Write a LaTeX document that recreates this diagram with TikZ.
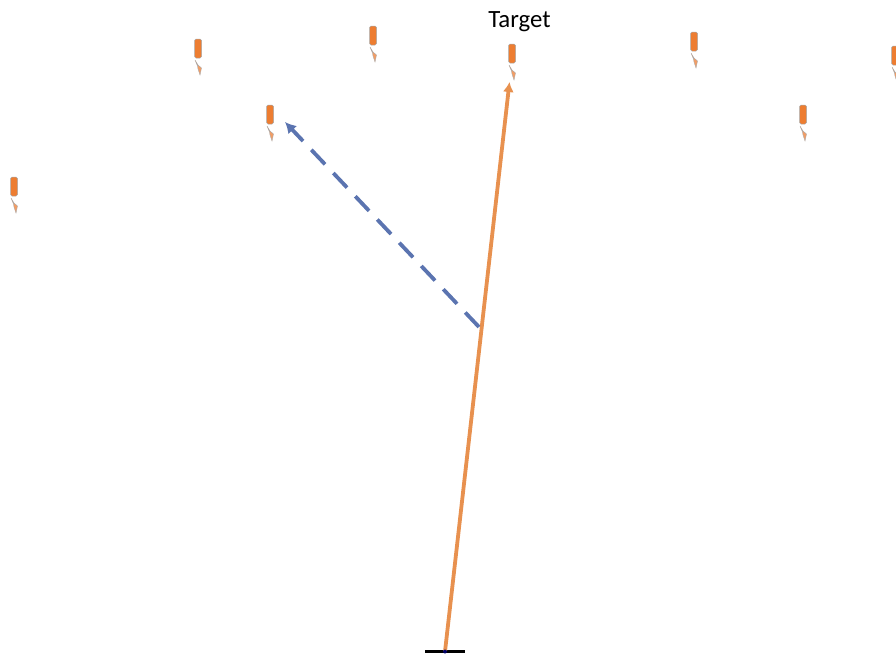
\documentclass[tikz,border=0pt]{standalone}
\usepackage{fontspec}
\setmainfont{Carlito}
\usetikzlibrary{arrows.meta}
\definecolor{mkorange}{HTML}{ED7D31}
\definecolor{lineorange}{HTML}{E8914F}
\definecolor{lineblue}{HTML}{5B74B0}
\definecolor{mkedge}{HTML}{A9A9A9}
\tikzset{
  markerbody/.style={fill=mkorange,draw=mkedge,line width=0.5pt,rounded corners=1.5pt},
  markertail/.style={fill=mkorange!75!white,draw=mkedge,line width=0.4pt},
  mainray/.style={draw=lineorange,line width=3.8pt,-{Latex[length=10pt,width=11pt]}},
  sideray/.style={draw=lineblue,line width=3.8pt,dash pattern=on 20pt off 12pt,-{Latex[length=11pt,width=12pt]}},
  basebar/.style={draw=black,line width=3.2pt},
  marker/.pic={
    \path[markerbody] (-3.5,0) rectangle (3.5,19);
    \path[markertail] (-3,21) -- (0,26) -- (3.5,29) -- (2,36) -- (0,30) -- (-0.5,27) -- cycle;
  }
}
\begin{document}
\begin{tikzpicture}[x=1pt,y=-1pt]
\useasboundingbox (0,0) rectangle (896,656);
\pic at (198,39) {marker};
\pic at (373,26) {marker};
\pic at (512,44) {marker};
\pic at (694,32) {marker};
\pic at (895,46) {marker};
\pic at (270,105) {marker};
\pic at (803,105) {marker};
\pic at (14,177) {marker};
\node[font=\fontsize{24.8pt}{28pt}\selectfont,inner sep=0pt] (target) at (519.5,21.5) {Target};
\coordinate (base) at (445,651.5);
\coordinate (barl) at (425,651.5);
\coordinate (barr) at (465,651.5);
\coordinate (tip) at (509.5,82);
\coordinate (branch) at (479,327);
\coordinate (sidetip) at (285,122);
\draw[basebar] (barl) -- (barr);
\draw[mainray] (base) -- (tip);
\draw[sideray] (branch) -- (sidetip);
\fill[blue!40!black] (base) circle (2pt);
\end{tikzpicture}
\end{document}
